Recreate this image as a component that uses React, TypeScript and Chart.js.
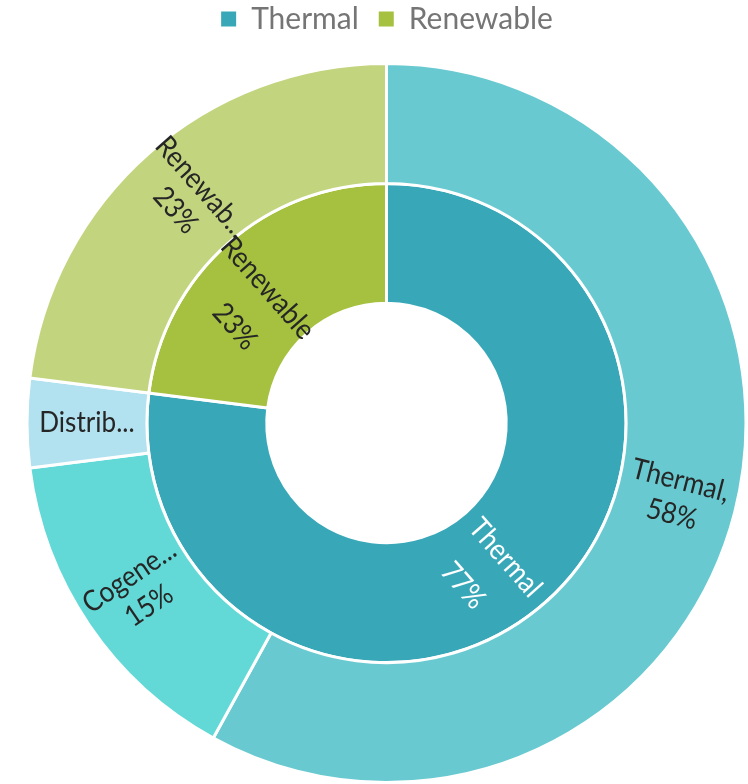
import React, { useEffect, useRef } from "react";
import { Chart, registerables } from "chart.js";

Chart.register(...registerables);

const outerLabels = ["Thermal", "Cogeneration", "Distributed", "Renewable"];
const outerValues = [58, 15, 4, 23];
const outerColors = ["#68CAD0", "#62D9D6", "#B2E1EF", "#C2D57E"];
const outerText = [["Thermal,", "58%"], ["Cogene...", "15%"], ["Distrib..."], ["Renewab...", "23%"]];

const innerLabels = ["Thermal", "Renewable"];
const innerValues = [77, 23];
const innerColors = ["#38A8B8", "#A5C13F"];
const innerText = [["Thermal", "77%"], ["Renewable", "23%"]];
const innerTextColors = ["#FFFFFF", "#262626"];

const FONT = "Lato, 'Open Sans', sans-serif";

const labelPlugin = {
  id: "arcLabels",
  afterDatasetsDraw(chart: any) {
    const ctx = chart.ctx;
    const texts = [outerText, innerText];
    chart.data.datasets.forEach((ds: any, di: number) => {
      const meta = chart.getDatasetMeta(di);
      const gap = di === 0 ? 35 : 52;
      meta.data.forEach((arc: any, i: number) => {
        const p = arc.getProps(["x", "y", "startAngle", "endAngle", "innerRadius", "outerRadius"], true);
        const mid = (p.startAngle + p.endAngle) / 2;
        const r = (p.innerRadius + p.outerRadius) / 2;
        const mx = Math.cos(mid) * r;
        const my = Math.sin(mid) * r;
        let rot = mid;
        while (rot > Math.PI / 2 + 1e-6) rot -= Math.PI;
        while (rot <= -Math.PI / 2 + 1e-6) rot += Math.PI;
        const dx = -Math.sin(rot);
        const dy = Math.cos(rot);
        const lines = texts[di][i];
        const base = di === 0 ? -(lines.length - 1) / 2 : 0;
        ctx.save();
        ctx.font = `29px ${FONT}`;
        ctx.fillStyle = di === 1 ? innerTextColors[i] : "#262626";
        ctx.textAlign = "center";
        ctx.textBaseline = "middle";
        lines.forEach((t: string, k: number) => {
          const off = (base + k) * gap;
          let tx = mx + dx * off;
          let ty = my + dy * off;
          const len = Math.hypot(tx, ty) || 1;
          tx = (tx / len) * r;
          ty = (ty / len) * r;
          ctx.save();
          ctx.translate(p.x + tx, p.y + ty);
          ctx.rotate(rot);
          ctx.scale(0.9, 1);
          ctx.fillText(t, 0, 0);
          ctx.restore();
        });
        ctx.restore();
      });
    });
  },
};

const legendSpace = {
  id: "legendSpace",
  beforeInit(chart: any) {
    const orig = chart.legend.fit;
    chart.legend.fit = function () {
      orig.bind(chart.legend)();
      this.height = 62;
    };
  },
  afterLayout(chart: any) {
    chart.legend.top = -16;
  },
};

export default function App() {
  const ref = useRef<HTMLCanvasElement>(null);
  useEffect(() => {
    if (!ref.current) return;
    const chart = new Chart(ref.current, {
      type: "doughnut",
      data: {
        labels: outerLabels,
        datasets: [
          { data: outerValues, backgroundColor: outerColors, borderColor: "#FFFFFF", borderWidth: 3, hoverOffset: 0 },
          { data: innerValues, backgroundColor: innerColors, borderColor: "#FFFFFF", borderWidth: 3, hoverOffset: 0 },
        ],
      },
      options: {
        animation: false,
        responsive: true,
        maintainAspectRatio: false,
        cutout: "33.3%",
        layout: { padding: { left: 25, right: -1, top: 0, bottom: -4 } },
        plugins: {
          tooltip: { enabled: false },
          legend: {
            position: "top",
            labels: {
              padding: 20,
              boxWidth: 15,
              boxHeight: 15,
              color: "#757575",
              font: { size: 30, family: FONT },
              generateLabels: () =>
                innerLabels.map((l, i) => ({
                  text: l,
                  fillStyle: innerColors[i],
                  strokeStyle: innerColors[i],
                  lineWidth: 0,
                  hidden: false,
                  index: i,
                  fontColor: "#757575",
                })),
            },
          },
        },
      },
      plugins: [labelPlugin, legendSpace],
    } as any);
    return () => chart.destroy();
  }, []);
  return (
    <div style={{ position: "absolute", left: 0, top: 0, width: 748, height: 784 }}>
      <canvas ref={ref} />
    </div>
  );
}
